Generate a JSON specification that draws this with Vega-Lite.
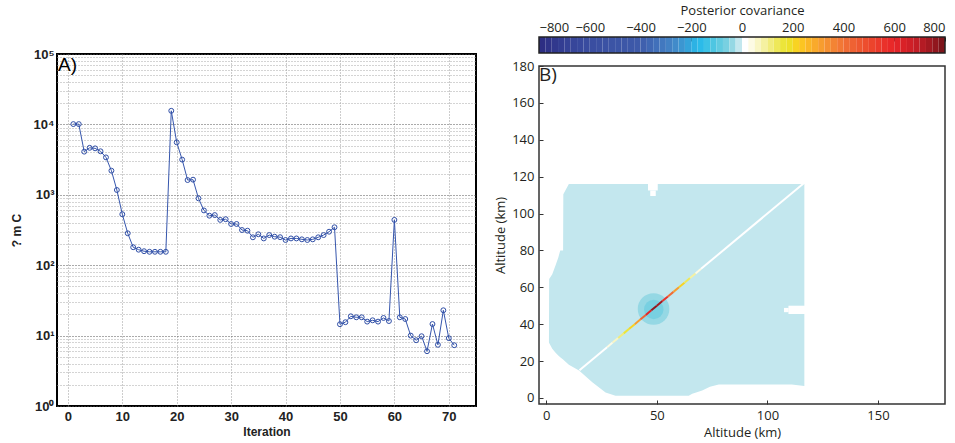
{
  "$schema": "https://vega.github.io/schema/vega-lite/v6.json",
  "padding": {"left": 9, "top": 4, "right": 4, "bottom": 2},
  "background": "white",
  "spacing": 16,
  "datasets": {
    "cost": [
      {"iter":1,"v":10100},{"iter":2,"v":10100},{"iter":3,"v":4100},{"iter":4,"v":4650},{"iter":5,"v":4570},
      {"iter":6,"v":4150},{"iter":7,"v":3400},{"iter":8,"v":2200},{"iter":9,"v":1170},{"iter":10,"v":530},
      {"iter":11,"v":284},{"iter":12,"v":180},{"iter":13,"v":166},{"iter":14,"v":158},{"iter":15,"v":155},
      {"iter":16,"v":155},{"iter":17,"v":155},{"iter":18,"v":155},{"iter":19,"v":15600},{"iter":20,"v":5560},
      {"iter":21,"v":3160},{"iter":22,"v":1620},{"iter":23,"v":1640},{"iter":24,"v":890},{"iter":25,"v":600},
      {"iter":26,"v":505},{"iter":27,"v":515},{"iter":28,"v":440},{"iter":29,"v":450},{"iter":30,"v":385},
      {"iter":31,"v":385},{"iter":32,"v":316},{"iter":33,"v":309},{"iter":34,"v":249},{"iter":35,"v":275},
      {"iter":36,"v":240},{"iter":37,"v":268},{"iter":38,"v":254},{"iter":39,"v":250},{"iter":40,"v":228},
      {"iter":41,"v":240},{"iter":42,"v":240},{"iter":43,"v":233},{"iter":44,"v":228},{"iter":45,"v":233},
      {"iter":46,"v":249},{"iter":47,"v":268},{"iter":48,"v":299},{"iter":49,"v":346},{"iter":50,"v":14.5},
      {"iter":51,"v":15.5},{"iter":52,"v":18.8},{"iter":53,"v":18.2},{"iter":54,"v":18.2},{"iter":55,"v":15.8},
      {"iter":56,"v":16.5},{"iter":57,"v":15.8},{"iter":58,"v":17.8},{"iter":59,"v":16.1},{"iter":60,"v":440},
      {"iter":61,"v":18.2},{"iter":62,"v":17.2},{"iter":63,"v":10},{"iter":64,"v":8.6},{"iter":65,"v":9.8},
      {"iter":66,"v":6.0},{"iter":67,"v":14.6},{"iter":68,"v":7.4},{"iter":69,"v":22.9},{"iter":70,"v":9.2},
      {"iter":71,"v":7.3}
    ],
    "colorbar": [
      {"lo":-800,"hi":-775,"c":-787.5},{"lo":-775,"hi":-750,"c":-762.5},{"lo":-750,"hi":-725,"c":-737.5},{"lo":-725,"hi":-700,"c":-712.5},
      {"lo":-700,"hi":-675,"c":-687.5},{"lo":-675,"hi":-650,"c":-662.5},{"lo":-650,"hi":-625,"c":-637.5},{"lo":-625,"hi":-600,"c":-612.5},
      {"lo":-600,"hi":-575,"c":-587.5},{"lo":-575,"hi":-550,"c":-562.5},{"lo":-550,"hi":-525,"c":-537.5},{"lo":-525,"hi":-500,"c":-512.5},
      {"lo":-500,"hi":-475,"c":-487.5},{"lo":-475,"hi":-450,"c":-462.5},{"lo":-450,"hi":-425,"c":-437.5},{"lo":-425,"hi":-400,"c":-412.5},
      {"lo":-400,"hi":-375,"c":-387.5},{"lo":-375,"hi":-350,"c":-362.5},{"lo":-350,"hi":-325,"c":-337.5},{"lo":-325,"hi":-300,"c":-312.5},
      {"lo":-300,"hi":-275,"c":-287.5},{"lo":-275,"hi":-250,"c":-262.5},{"lo":-250,"hi":-225,"c":-237.5},{"lo":-225,"hi":-200,"c":-212.5},
      {"lo":-200,"hi":-175,"c":-187.5},{"lo":-175,"hi":-150,"c":-162.5},{"lo":-150,"hi":-125,"c":-137.5},{"lo":-125,"hi":-100,"c":-112.5},
      {"lo":-100,"hi":-75,"c":-87.5},{"lo":-75,"hi":-50,"c":-62.5},{"lo":-50,"hi":-25,"c":-37.5},{"lo":-25,"hi":0,"c":-12.5},
      {"lo":0,"hi":25,"c":12.5},{"lo":25,"hi":50,"c":37.5},{"lo":50,"hi":75,"c":62.5},{"lo":75,"hi":100,"c":87.5},
      {"lo":100,"hi":125,"c":112.5},{"lo":125,"hi":150,"c":137.5},{"lo":150,"hi":175,"c":162.5},{"lo":175,"hi":200,"c":187.5},
      {"lo":200,"hi":225,"c":212.5},{"lo":225,"hi":250,"c":237.5},{"lo":250,"hi":275,"c":262.5},{"lo":275,"hi":300,"c":287.5},
      {"lo":300,"hi":325,"c":312.5},{"lo":325,"hi":350,"c":337.5},{"lo":350,"hi":375,"c":362.5},{"lo":375,"hi":400,"c":387.5},
      {"lo":400,"hi":425,"c":412.5},{"lo":425,"hi":450,"c":437.5},{"lo":450,"hi":475,"c":462.5},{"lo":475,"hi":500,"c":487.5},
      {"lo":500,"hi":525,"c":512.5},{"lo":525,"hi":550,"c":537.5},{"lo":550,"hi":575,"c":562.5},{"lo":575,"hi":600,"c":587.5},
      {"lo":600,"hi":625,"c":612.5},{"lo":625,"hi":650,"c":637.5},{"lo":650,"hi":675,"c":662.5},{"lo":675,"hi":700,"c":687.5},
      {"lo":700,"hi":725,"c":712.5},{"lo":725,"hi":750,"c":737.5},{"lo":750,"hi":775,"c":762.5},{"lo":775,"hi":800,"c":787.5}
    ],
    "region": [
      {"x":1.2,"top":30,"bottom":30,"v":-12},{"x":1.3,"top":64.5,"bottom":29.8,"v":-12},{"x":2.7,"top":67,"bottom":26.6,"v":-12},
      {"x":4.2,"top":72,"bottom":24.5,"v":-12},{"x":5.4,"top":76,"bottom":23,"v":-12},{"x":6.3,"top":80,"bottom":22,"v":-12},
      {"x":7.6,"top":80,"bottom":20.8,"v":-12},{"x":7.7,"top":110.5,"bottom":20.7,"v":-12},{"x":10.2,"top":116,"bottom":18,"v":-12},
      {"x":14.8,"top":116,"bottom":14.8,"v":-12},{"x":20.8,"top":116,"bottom":8.5,"v":-12},{"x":26.8,"top":116,"bottom":3,"v":-12},
      {"x":31.3,"top":116,"bottom":1.2,"v":-12},{"x":64.4,"top":116,"bottom":1.2,"v":-12},{"x":66,"top":116,"bottom":2.2,"v":-12},
      {"x":70.5,"top":116,"bottom":4,"v":-12},{"x":74,"top":116,"bottom":6,"v":-12},{"x":78,"top":116,"bottom":7.3,"v":-12},
      {"x":111,"top":116,"bottom":7.3,"v":-12},{"x":116.7,"top":116,"bottom":6.5,"v":-12}
    ],
    "holes": [
      {"x":46,"x2":50.4,"y":112.5,"y2":116.5,"v":5},{"x":47,"x2":49.5,"y":109.5,"y2":112.5,"v":5},
      {"x":109.5,"x2":117.5,"y":45.5,"y2":50,"v":5},{"x":107.5,"x2":109.6,"y":46.5,"y2":48.8,"v":5}
    ],
    "diag": [
      {"a":15,"b":27.5,"v":5},{"a":27.5,"b":30,"v":30},{"a":30,"b":32.5,"v":60},{"a":32.5,"b":35,"v":100},
      {"a":35,"b":37.5,"v":150},{"a":37.5,"b":40,"v":210},{"a":40,"b":42.5,"v":300},{"a":42.5,"b":45,"v":440},
      {"a":45,"b":47.5,"v":620},{"a":47.5,"b":50,"v":760},{"a":50,"b":52.5,"v":740},{"a":52.5,"b":55,"v":560},
      {"a":55,"b":57.5,"v":420},{"a":57.5,"b":60,"v":300},{"a":60,"b":62.5,"v":200},{"a":62.5,"b":65,"v":140},
      {"a":65,"b":67.5,"v":80},{"a":67.5,"b":70,"v":35},{"a":70,"b":117,"v":5}
    ]
  },
  "hconcat": [
    {
      "bounds": "flush",
      "spacing": 0,
      "vconcat": [
        {"width": 419, "height": 17, "data": {"values": []}, "mark": "point", "view": {"stroke": null}},
        {
          "width": 419,
          "height": 352,
          "view": {"stroke": "#000000", "strokeWidth": 2},
          "data": {"name": "cost"},
          "layer": [
            {
              "mark": {"type": "line", "color": "#3656ad", "strokeWidth": 1},
              "encoding": {
                "x": {"field": "iter", "type": "quantitative",
                  "scale": {"domain": [-2, 75], "nice": false, "zero": false},
                  "axis": {"values": [0,10,20,30,40,50,60,70], "title": "Iteration", "grid": true,
                    "gridDash": [1,2], "gridColor": "#9a9a9a", "gridWidth": 1, "ticks": false, "domain": false,
                    "labelFont": "Liberation Sans", "labelFontWeight": "bold", "labelFontSize": 13, "labelColor": "#222222",
                    "labelPadding": 4, "titleFont": "Liberation Sans", "titleFontWeight": "bold", "titleFontSize": 12,
                    "titleColor": "#222222", "titlePadding": 3}},
                "y": {"field": "v", "type": "quantitative",
                  "scale": {"type": "log", "domain": [1, 100000], "nice": false},
                  "axis": {"values": [1,2,3,4,5,6,7,8,9,10,20,30,40,50,60,70,80,90,100,200,300,400,500,600,700,800,900,1000,2000,3000,4000,5000,6000,7000,8000,9000,10000,20000,30000,40000,50000,60000,70000,80000,90000,100000],
                    "labelExpr": "datum.value == 1 ? '10⁰' : datum.value == 10 ? '10¹' : datum.value == 100 ? '10²' : datum.value == 1000 ? '10³' : datum.value == 10000 ? '10⁴' : datum.value == 100000 ? '10⁵' : ''",
                    "labelOverlap": false, "labelBound": false, "title": "?  m C", "grid": true,
                    "gridDash": [1,2],
                    "gridColor": {"condition": {"test": "indexof([1,10,100,1000,10000,100000], datum.value) >= 0", "value": "#555555"}, "value": "#a8a8a8"},
                    "ticks": false, "domain": false,
                    "labelFont": "Liberation Sans", "labelFontWeight": "bold", "labelFontSize": 13, "labelColor": "#222222",
                    "labelPadding": 3, "titleFont": "Liberation Sans", "titleFontWeight": "bold", "titleFontSize": 12,
                    "titleColor": "#222222", "titlePadding": 10}}
              }
            },
            {
              "mark": {"type": "point", "shape": "circle", "filled": false, "color": "#2f4ea6", "size": 24, "strokeWidth": 1, "opacity": 1},
              "encoding": {
                "x": {"field": "iter", "type": "quantitative"},
                "y": {"field": "v", "type": "quantitative"}
              }
            },
            {
              "data": {"values": [{"t": "A)"}]},
              "mark": {"type": "text", "align": "left", "baseline": "top", "font": "Liberation Sans", "fontSize": 19, "color": "#000000", "dx": 1, "dy": 2},
              "encoding": {
                "x": {"datum": -2},
                "y": {"datum": 100000},
                "text": {"field": "t"}
              }
            }
          ]
        }
      ]
    },
    {
      "bounds": "flush",
      "spacing": 13,
      "vconcat": [
        {
          "width": 406,
          "height": 16,
          "view": {"stroke": null},
          "layer": [
            {
              "data": {"name": "colorbar"},
              "mark": {"type": "rect"},
              "encoding": {
                "x": {"field": "lo", "type": "quantitative",
                  "scale": {"domain": [-800, 800], "nice": false, "zero": false},
                  "axis": {"orient": "top", "values": [-800,-600,-400,-200,0,200,400,600,800], "title": "Posterior covariance",
                    "grid": false, "ticks": true, "tickSize": -4, "tickColor": "#222222", "domain": false, "labelFont": "Open Sans", "labelFontSize": 13,
                    "labelColor": "#231f20", "labelPadding": 7, "titleFont": "Open Sans", "titleFontSize": 13,
                    "titleFontWeight": "normal", "titleColor": "#231f20", "titlePadding": 4}},
                "x2": {"field": "hi"},
                "color": {"field": "c", "type": "quantitative",
                  "scale": {"type": "quantize", "domain": [-800, 800],
                    "range": ["#2d2e83","#2f3388","#31388d","#333d92","#354296","#37469a","#38499d","#394c9f","#3a4ea1","#3b50a2","#3b52a4","#3c54a5","#3c55a6","#3d57a7","#3d58a8","#3e5aa9","#3f60ae","#4068b4","#4170ba","#4278bf","#4381c4","#418bca","#3c96d1","#35a3da","#2cb2e4","#2bbbe9","#3cc2e6","#4ec6e2","#62cbe0","#78d0e1","#95d8e4","#c3e7ee","#ffffff","#fdfbe4","#f9f6c4","#f5f1a1","#f1ec7d","#eee85a","#ece53a","#ede12a","#f8d322","#fcc522","#fbb726","#f9aa2b","#f79d2f","#f59032","#f38434","#f27835","#f06c35","#ef6233","#ee5830","#ed4e2e","#ec442c","#eb3a2b","#ea312a","#e92929","#e22428","#d92127","#cf1f27","#c31d26","#b41b24","#a31921","#91171e","#7d141a"]},
                  "legend": null}
              }
            },
            {
              "data": {"values": [{"k": 1}]},
              "mark": {"type": "rect", "fill": null, "fillOpacity": 0, "stroke": "#222222", "strokeWidth": 1.5},
              "encoding": {
                "x": {"datum": -800},
                "x2": {"datum": 800}
              }
            }
          ]
        },
        {
          "width": 406,
          "height": 338,
          "view": {"stroke": "#333333", "strokeWidth": 1.5},
          "encoding": {
            "x": {"type": "quantitative",
              "scale": {"domain": [-3.3, 180.3], "nice": false, "zero": false},
              "axis": {"values": [0, 50, 100, 150], "title": "Altitude (km)", "grid": false, "domain": false,
                "tickSize": -4, "tickColor": "#333333", "labelFont": "Open Sans", "labelFontSize": 13, "labelColor": "#231f20",
                "labelPadding": 9, "titleFont": "Open Sans", "titleFontSize": 13, "titleFontWeight": "normal",
                "titleColor": "#231f20", "titlePadding": 4}},
            "y": {"type": "quantitative",
              "scale": {"domain": [-3.3, 180], "nice": false, "zero": false},
              "axis": {"values": [0,20,40,60,80,100,120,140,160,180], "title": "Altitude (km)", "grid": false, "domain": false,
                "tickSize": -4, "tickColor": "#333333", "labelFont": "Open Sans", "labelFontSize": 13, "labelColor": "#231f20",
                "labelPadding": 9, "titleFont": "Open Sans", "titleFontSize": 13, "titleFontWeight": "normal",
                "titleColor": "#231f20", "titlePadding": 4}},
            "color": {"field": "v", "type": "quantitative",
              "scale": {"type": "quantize", "domain": [-800, 800],
                "range": ["#2d2e83","#2f3388","#31388d","#333d92","#354296","#37469a","#38499d","#394c9f","#3a4ea1","#3b50a2","#3b52a4","#3c54a5","#3c55a6","#3d57a7","#3d58a8","#3e5aa9","#3f60ae","#4068b4","#4170ba","#4278bf","#4381c4","#418bca","#3c96d1","#35a3da","#2cb2e4","#2bbbe9","#3cc2e6","#4ec6e2","#62cbe0","#78d0e1","#95d8e4","#c3e7ee","#ffffff","#fdfbe4","#f9f6c4","#f5f1a1","#f1ec7d","#eee85a","#ece53a","#ede12a","#f8d322","#fcc522","#fbb726","#f9aa2b","#f79d2f","#f59032","#f38434","#f27835","#f06c35","#ef6233","#ee5830","#ed4e2e","#ec442c","#eb3a2b","#ea312a","#e92929","#e22428","#d92127","#cf1f27","#c31d26","#b41b24","#a31921","#91171e","#7d141a"]},
              "legend": null}
          },
          "layer": [
            {
              "data": {"name": "region"},
              "mark": {"type": "area", "interpolate": "linear"},
              "encoding": {
                "x": {"field": "x", "type": "quantitative"},
                "y": {"field": "top", "type": "quantitative"},
                "y2": {"field": "bottom"}
              }
            },
            {
              "data": {"name": "holes"},
              "mark": {"type": "rect"},
              "encoding": {
                "x": {"field": "x", "type": "quantitative"},
                "x2": {"field": "x2"},
                "y": {"field": "y", "type": "quantitative"},
                "y2": {"field": "y2"}
              }
            },
            {
              "data": {"values": [{"x": 48.5, "y": 48.2, "v": -40}]},
              "mark": {"type": "point", "shape": "circle", "filled": true, "size": 1000, "opacity": 1},
              "encoding": {
                "x": {"field": "x", "type": "quantitative"},
                "y": {"field": "y", "type": "quantitative"}
              }
            },
            {
              "data": {"values": [{"x": 48.6, "y": 48, "v": -70}]},
              "mark": {"type": "point", "shape": "circle", "filled": true, "size": 380, "opacity": 1},
              "encoding": {
                "x": {"field": "x", "type": "quantitative"},
                "y": {"field": "y", "type": "quantitative"}
              }
            },
            {
              "data": {"name": "diag"},
              "mark": {"type": "rule", "strokeWidth": 2, "strokeCap": "butt"},
              "encoding": {
                "x": {"field": "a", "type": "quantitative"},
                "y": {"field": "a", "type": "quantitative"},
                "x2": {"field": "b"},
                "y2": {"field": "b"}
              }
            },
            {
              "data": {"values": [{"t": "B)"}]},
              "mark": {"type": "text", "align": "left", "baseline": "top", "font": "Open Sans", "fontSize": 19, "dx": 0, "dy": 0},
              "encoding": {
                "x": {"datum": -3.3},
                "y": {"datum": 180},
                "text": {"field": "t"},
                "color": {"value": "#231f20"}
              }
            }
          ]
        }
      ]
    }
  ]
}
